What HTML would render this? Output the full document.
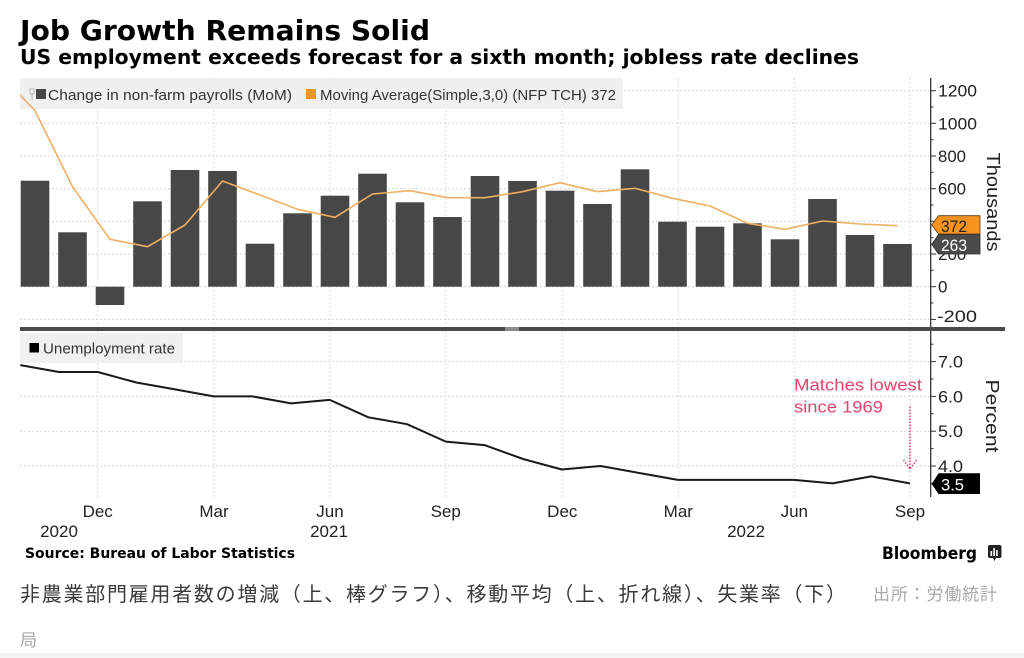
<!DOCTYPE html>
<html>
<head>
<meta charset="utf-8">
<style>
  html,body{margin:0;padding:0;background:#fff;}
  svg{display:block;}
  .ax{font-family:"Liberation Sans","DejaVu Sans",sans-serif;font-size:17px;fill:#222;}
  .lg{font-family:"Liberation Sans","DejaVu Sans",sans-serif;font-size:15px;fill:#333;}
</style>
</head>
<body>
<svg width="1024" height="658" viewBox="0 0 1024 658" xmlns="http://www.w3.org/2000/svg">
  <rect x="0" y="0" width="1024" height="658" fill="#ffffff"/>

  <!-- Titles -->
  <text x="20" y="40" font-family="'DejaVu Sans','Liberation Sans',sans-serif" font-weight="bold" font-size="28" fill="#000" textLength="410" lengthAdjust="spacingAndGlyphs">Job Growth Remains Solid</text>
  <text x="20" y="64" font-family="'DejaVu Sans','Liberation Sans',sans-serif" font-weight="bold" font-size="20" fill="#000" textLength="839" lengthAdjust="spacingAndGlyphs">US employment exceeds forecast for a sixth month; jobless rate declines</text>

  <!-- ===== TOP CHART ===== -->
  <g stroke="#d4d4d4" stroke-width="1" stroke-dasharray="2 2">
    <line x1="20" y1="90.7" x2="930" y2="90.7"/>
    <line x1="20" y1="123.3" x2="930" y2="123.3"/>
    <line x1="20" y1="156" x2="930" y2="156"/>
    <line x1="20" y1="188.7" x2="930" y2="188.7"/>
    <line x1="20" y1="221.3" x2="930" y2="221.3"/>
    <line x1="20" y1="254" x2="930" y2="254"/>
    <line x1="20" y1="286.7" x2="930" y2="286.7"/>
    <line x1="20" y1="319.4" x2="930" y2="319.4"/>
  </g>
  <g stroke="#dadada" stroke-width="1" stroke-dasharray="2 2">
    <line x1="97.7" y1="78" x2="97.7" y2="327"/>
    <line x1="214" y1="78" x2="214" y2="327"/>
    <line x1="330" y1="78" x2="330" y2="327"/>
    <line x1="445.7" y1="78" x2="445.7" y2="327"/>
    <line x1="562.3" y1="78" x2="562.3" y2="327"/>
    <line x1="678.3" y1="78" x2="678.3" y2="327"/>
    <line x1="794.3" y1="78" x2="794.3" y2="327"/>
    <line x1="910" y1="78" x2="910" y2="327"/>
  </g>

  <!-- legend box top -->
  <rect x="20" y="78" width="603" height="31" fill="#efefef" opacity="0.92"/>
  <rect x="30" y="89" width="4" height="5" fill="none" stroke="#aaa" stroke-width="0.8"/>
  <line x1="32" y1="94" x2="32" y2="100" stroke="#aaa" stroke-width="0.8"/>
  <rect x="36" y="89" width="10" height="10" fill="#474747"/>
  <text class="lg" x="48" y="100" textLength="244" lengthAdjust="spacingAndGlyphs">Change in non-farm payrolls (MoM)</text>
  <rect x="306" y="89" width="10" height="10" fill="#f7931e"/>
  <text class="lg" x="320" y="100" textLength="296" lengthAdjust="spacingAndGlyphs">Moving Average(Simple,3,0) (NFP TCH) 372</text>

  <!-- bars -->
  <g fill="#474747">
    <rect x="20.7" y="180.7" width="28.6" height="106"/>
    <rect x="58.2" y="232.3" width="28.6" height="54.4"/>
    <rect x="95.7" y="286.7" width="28.6" height="18.3"/>
    <rect x="133.2" y="201.3" width="28.6" height="85.4"/>
    <rect x="170.7" y="170" width="28.6" height="116.7"/>
    <rect x="208.2" y="171" width="28.6" height="115.7"/>
    <rect x="245.7" y="243.7" width="28.6" height="43"/>
    <rect x="283.2" y="213.3" width="28.6" height="73.4"/>
    <rect x="320.7" y="195.7" width="28.6" height="91"/>
    <rect x="358.2" y="173.7" width="28.6" height="113"/>
    <rect x="395.7" y="202.3" width="28.6" height="84.4"/>
    <rect x="433.2" y="217" width="28.6" height="69.7"/>
    <rect x="470.7" y="176" width="28.6" height="110.7"/>
    <rect x="508.2" y="181" width="28.6" height="105.7"/>
    <rect x="545.7" y="190.7" width="28.6" height="96"/>
    <rect x="583.2" y="204" width="28.6" height="82.7"/>
    <rect x="620.7" y="169.3" width="28.6" height="117.4"/>
    <rect x="658.2" y="221.7" width="28.6" height="65"/>
    <rect x="695.7" y="226.7" width="28.6" height="60"/>
    <rect x="733.2" y="223.3" width="28.6" height="63.4"/>
    <rect x="770.7" y="239.3" width="28.6" height="47.4"/>
    <rect x="808.2" y="199" width="28.6" height="87.7"/>
    <rect x="845.7" y="235" width="28.6" height="51.7"/>
    <rect x="883.2" y="244" width="28.6" height="42.7"/>
  </g>

  <!-- moving average -->
  <polyline fill="none" stroke="#efb063" stroke-width="1.6" stroke-linejoin="round"
    points="20,95 35,110.7 72.5,186.7 110,239.3 147.5,246.7 185,225 222.5,181 260,195 297.5,209.3 335,217.3 372.5,194 410,190.7 447.5,197.7 485,197.7 522.5,191.7 560,182.7 597.5,191.7 635,188.3 672.5,198.3 710,206 747.5,223.3 785,229.3 822.5,221 860,224 897.5,225.7"/>

  <!-- top axis -->
  <line x1="930.7" y1="78" x2="930.7" y2="331" stroke="#333" stroke-width="1.3"/>
  <g stroke="#333" stroke-width="1">
    <line x1="930.7" y1="90.7" x2="936" y2="90.7"/>
    <line x1="930.7" y1="123.3" x2="936" y2="123.3"/>
    <line x1="930.7" y1="156" x2="936" y2="156"/>
    <line x1="930.7" y1="188.7" x2="936" y2="188.7"/>
    <line x1="930.7" y1="221.3" x2="936" y2="221.3"/>
    <line x1="930.7" y1="254" x2="936" y2="254"/>
    <line x1="930.7" y1="286.7" x2="936" y2="286.7"/>
    <line x1="930.7" y1="319.4" x2="936" y2="319.4"/>
    <line x1="930.7" y1="107" x2="933.5" y2="107"/>
    <line x1="930.7" y1="139.7" x2="933.5" y2="139.7"/>
    <line x1="930.7" y1="172.3" x2="933.5" y2="172.3"/>
    <line x1="930.7" y1="205" x2="933.5" y2="205"/>
    <line x1="930.7" y1="237.7" x2="933.5" y2="237.7"/>
    <line x1="930.7" y1="270.3" x2="933.5" y2="270.3"/>
    <line x1="930.7" y1="303" x2="933.5" y2="303"/>
  </g>
  <text class="ax" x="938" y="96.7" textLength="39" lengthAdjust="spacingAndGlyphs">1200</text>
  <text class="ax" x="938" y="129.3" textLength="39" lengthAdjust="spacingAndGlyphs">1000</text>
  <text class="ax" x="938" y="162" textLength="28" lengthAdjust="spacingAndGlyphs">800</text>
  <text class="ax" x="938" y="194.7" textLength="28" lengthAdjust="spacingAndGlyphs">600</text>
  <text class="ax" x="938" y="227.3">400</text>
  <text class="ax" x="938" y="260">200</text>
  <text class="ax" x="938" y="292.7">0</text>
  <text class="ax" x="937" y="322" textLength="40" lengthAdjust="spacingAndGlyphs">-200</text>

  <!-- value tags -->
  <polygon points="931.7,225 938.5,215.7 980,215.7 980,234 938.5,234" fill="#f7931e" stroke="#5a3a10" stroke-width="0.8"/>
  <text class="ax" x="941" y="231.8" fill="#1a1a1a" textLength="26" lengthAdjust="spacingAndGlyphs">372</text>
  <polygon points="931.7,244.3 938.5,234.5 980,234.5 980,254 938.5,254" fill="#4a4a4a" stroke="#2a2a2a" stroke-width="0.8"/>
  <text class="ax" x="941" y="251" style="fill:#fff" textLength="26" lengthAdjust="spacingAndGlyphs">263</text>

  <text class="ax" transform="translate(987,202) rotate(90)" text-anchor="middle" style="font-size:18px" textLength="99" lengthAdjust="spacingAndGlyphs">Thousands</text>

  <!-- separator -->
  <rect x="20" y="327" width="985" height="4" fill="#4a4a4a"/>
  <rect x="505" y="327" width="14" height="4" fill="#8a8a8a"/>

  <!-- ===== BOTTOM CHART ===== -->
  <g stroke="#d4d4d4" stroke-width="1" stroke-dasharray="2 2">
    <line x1="20" y1="361.6" x2="930" y2="361.6"/>
    <line x1="20" y1="396.4" x2="930" y2="396.4"/>
    <line x1="20" y1="431.2" x2="930" y2="431.2"/>
    <line x1="20" y1="466" x2="930" y2="466"/>
  </g>
  <g stroke="#dadada" stroke-width="1" stroke-dasharray="2 2">
    <line x1="97.7" y1="331" x2="97.7" y2="497"/>
    <line x1="214" y1="331" x2="214" y2="497"/>
    <line x1="330" y1="331" x2="330" y2="497"/>
    <line x1="445.7" y1="331" x2="445.7" y2="497"/>
    <line x1="562.3" y1="331" x2="562.3" y2="497"/>
    <line x1="678.3" y1="331" x2="678.3" y2="497"/>
    <line x1="794.3" y1="331" x2="794.3" y2="497"/>
    <line x1="910" y1="331" x2="910" y2="497"/>
  </g>

  <rect x="20" y="333" width="163" height="30" fill="#efefef" opacity="0.92"/>
  <rect x="29.5" y="343" width="9.5" height="9.5" fill="#000"/>
  <text class="lg" x="43" y="353.5" textLength="132" lengthAdjust="spacingAndGlyphs">Unemployment rate</text>

  <polyline fill="none" stroke="#1a1a1a" stroke-width="2" stroke-linejoin="round"
    points="20.3,365.1 59,372 97.7,372 136.3,382.5 175,389.4 213.7,396.4 252.4,396.4 291.1,403.4 329.7,399.9 368.4,417.3 407.1,424.2 445.8,441.6 484.5,445.1 523.1,459 561.8,469.5 600.5,466 639.2,473 677.9,479.9 716.5,479.9 755.2,479.9 793.9,479.9 832.6,483.4 871.3,476.4 909.9,483.4"/>

  <!-- bottom axis -->
  <line x1="930.7" y1="331" x2="930.7" y2="497" stroke="#333" stroke-width="1.3"/>
  <g stroke="#333" stroke-width="1">
    <line x1="930.7" y1="361.6" x2="936" y2="361.6"/>
    <line x1="930.7" y1="396.4" x2="936" y2="396.4"/>
    <line x1="930.7" y1="431.2" x2="936" y2="431.2"/>
    <line x1="930.7" y1="466" x2="936" y2="466"/>
    <line x1="930.7" y1="344.2" x2="933.5" y2="344.2"/>
    <line x1="930.7" y1="379" x2="933.5" y2="379"/>
    <line x1="930.7" y1="413.8" x2="933.5" y2="413.8"/>
    <line x1="930.7" y1="448.6" x2="933.5" y2="448.6"/>
    <line x1="930.7" y1="483.4" x2="933.5" y2="483.4"/>
  </g>
  <text class="ax" x="938" y="367.6" textLength="25" lengthAdjust="spacingAndGlyphs">7.0</text>
  <text class="ax" x="938" y="402.4" textLength="25" lengthAdjust="spacingAndGlyphs">6.0</text>
  <text class="ax" x="938" y="437.2" textLength="25" lengthAdjust="spacingAndGlyphs">5.0</text>
  <text class="ax" x="938" y="472" textLength="25" lengthAdjust="spacingAndGlyphs">4.0</text>

  <polygon points="931.7,484 938.5,473.3 980,473.3 980,494 938.5,494" fill="#000"/>
  <text class="ax" x="941" y="490.5" style="fill:#fff" textLength="23" lengthAdjust="spacingAndGlyphs">3.5</text>

  <text class="ax" transform="translate(986,416) rotate(90)" text-anchor="middle" style="font-size:18px" textLength="73" lengthAdjust="spacingAndGlyphs">Percent</text>

  <!-- annotation -->
  <g font-family="'Liberation Sans','DejaVu Sans',sans-serif" font-size="17" fill="#e2456c">
    <text x="794" y="390.5" textLength="128" lengthAdjust="spacingAndGlyphs">Matches lowest</text>
    <text x="794" y="412.5" textLength="89" lengthAdjust="spacingAndGlyphs">since 1969</text>
  </g>
  <g stroke="#e2456c" stroke-width="1.5" stroke-dasharray="1.5 1.5" fill="none">
    <line x1="910" y1="406.5" x2="910" y2="469"/>
    <line x1="903.5" y1="460" x2="910" y2="469"/>
    <line x1="916.5" y1="460" x2="910" y2="469"/>
  </g>

  <!-- x-axis labels -->
  <g>
    <text x="97.7" y="517" class="ax" text-anchor="middle">Dec</text>
    <text x="214" y="517" class="ax" text-anchor="middle">Mar</text>
    <text x="330" y="517" class="ax" text-anchor="middle">Jun</text>
    <text x="445.7" y="517" class="ax" text-anchor="middle">Sep</text>
    <text x="562.3" y="517" class="ax" text-anchor="middle">Dec</text>
    <text x="678.3" y="517" class="ax" text-anchor="middle">Mar</text>
    <text x="794.3" y="517" class="ax" text-anchor="middle">Jun</text>
    <text x="910" y="517" class="ax" text-anchor="middle">Sep</text>
    <text x="59" y="537" class="ax" text-anchor="middle">2020</text>
    <text x="329" y="537" class="ax" text-anchor="middle">2021</text>
    <text x="746" y="537" class="ax" text-anchor="middle">2022</text>
  </g>

  <!-- source & logo -->
  <text x="25" y="558" font-family="'DejaVu Sans','Liberation Sans',sans-serif" font-weight="bold" font-size="14" fill="#000" textLength="270" lengthAdjust="spacingAndGlyphs">Source: Bureau of Labor Statistics</text>
  <text x="882" y="559" font-family="'DejaVu Sans','Liberation Sans',sans-serif" font-weight="bold" font-size="17" fill="#000" textLength="95" lengthAdjust="spacingAndGlyphs">Bloomberg</text>
  <rect x="988" y="545" width="13.5" height="13" rx="2" fill="#222"/>
  <g fill="#fff">
    <rect x="990.5" y="551" width="1.6" height="5"/>
    <rect x="993.3" y="548" width="1.6" height="8"/>
    <rect x="996.1" y="550" width="1.6" height="6"/>
  </g>
  <polygon points="993,558 996,558 994.5,561" fill="#222"/>

  <!-- Japanese caption -->
  <text x="20" y="601" font-family="'Liberation Sans','Noto Sans CJK JP',sans-serif" font-size="20" fill="#3a3a3a" textLength="826" lengthAdjust="spacing">非農業部門雇用者数の増減（上、棒グラフ）、移動平均（上、折れ線）、失業率（下）</text>
  <text x="873" y="600" font-family="'Liberation Sans','Noto Sans CJK JP',sans-serif" font-size="17" fill="#a8a8a8" textLength="124" lengthAdjust="spacing">出所：労働統計</text>
  <text x="20" y="646" font-family="'Liberation Sans','Noto Sans CJK JP',sans-serif" font-size="17" fill="#a8a8a8">局</text>

  <rect x="0" y="653" width="1024" height="5" fill="#f3f3f3"/>
</svg>
</body>
</html>
